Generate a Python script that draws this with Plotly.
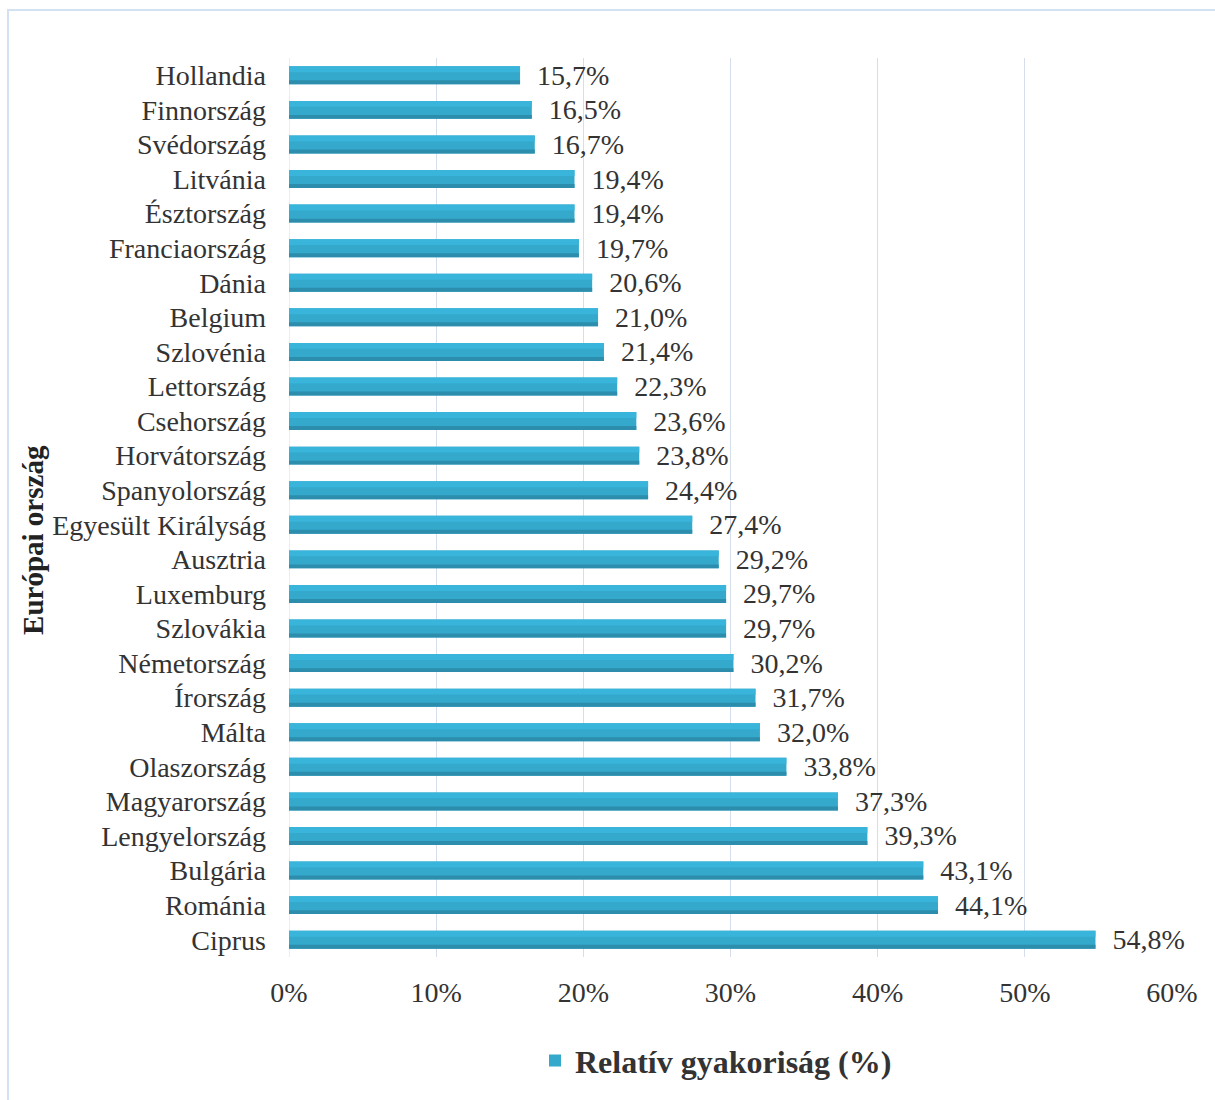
import plotly.graph_objects as go

countries = ["Hollandia", "Finnország", "Svédország", "Litvánia", "Észtország",
             "Franciaország", "Dánia", "Belgium", "Szlovénia", "Lettország",
             "Csehország", "Horvátország", "Spanyolország", "Egyesült Királyság",
             "Ausztria", "Luxemburg", "Szlovákia", "Németország", "Írország",
             "Málta", "Olaszország", "Magyarország", "Lengyelország", "Bulgária",
             "Románia", "Ciprus"]
values = [15.7, 16.5, 16.7, 19.4, 19.4, 19.7, 20.6, 21.0, 21.4, 22.3,
          23.6, 23.8, 24.4, 27.4, 29.2, 29.7, 29.7, 30.2, 31.7,
          32.0, 33.8, 37.3, 39.3, 43.1, 44.1, 54.8]
x_ticks = [0, 10, 20, 30, 40, 50, 60]
series_name = "Relatív gyakoriság (%)"
y_title = "Európai ország"

labels = ["\u00a0\u00a0" + f"{v:.1f}".replace(".", ",") + "%" for v in values]

FONT = "Liberation Serif"
TXT = "#333333"
BW = 0.52  # bar thickness in category units

fig = go.Figure()
# main bar (carries legend and labels)
fig.add_trace(go.Bar(
    y=countries, x=values, orientation="h", name=series_name,
    width=BW, marker=dict(color="#34a9cc", line=dict(width=0)),
    text=labels, textposition="outside", cliponaxis=False, constraintext="none",
    textfont=dict(family=FONT, size=28, color=TXT),
    showlegend=True, hoverinfo="skip",
))
# gradient-like shading bands (top lighter, bottom darker)
fig.add_trace(go.Bar(
    y=countries, x=values, orientation="h", showlegend=False, hoverinfo="skip",
    width=BW * 0.33, offset=-BW / 2, marker=dict(color="#39b4da", line=dict(width=0)),
))
fig.add_trace(go.Bar(
    y=countries, x=values, orientation="h", showlegend=False, hoverinfo="skip",
    width=BW * 0.22, offset=BW / 2 - BW * 0.22, marker=dict(color="#2c8eac", line=dict(width=0)),
))

W, H = 1215, 1100
L, R, T, B = 289, 43, 58, 141
pw, ph = W - L - R, H - T - B

fig.update_layout(
    width=W, height=H,
    margin=dict(l=L, r=R, t=T, b=B),
    paper_bgcolor="white", plot_bgcolor="white",
    barmode="overlay",
    font=dict(family=FONT, size=28, color=TXT),
    xaxis=dict(range=[0, 60], tickvals=x_ticks, ticktext=[f"{t}%" for t in x_ticks],
               showgrid=True, gridcolor="#d5deea", gridwidth=1, zeroline=False,
               showline=False, ticks="", tickfont=dict(size=28, family=FONT, color=TXT),
               ticklabelstandoff=16, fixedrange=True),
    yaxis=dict(categoryorder="array", categoryarray=countries, autorange="reversed",
               showgrid=False, zeroline=False, showline=False, ticks="",
               tickfont=dict(size=28, family=FONT, color=TXT),
               ticklabelstandoff=22),
    legend=dict(orientation="h", x=(716 - L) / pw, xanchor="center",
                y=(T + ph - 1063) / ph, yanchor="middle",
                font=dict(family=FONT, size=32, color=TXT, weight="bold"),
                itemwidth=30),
    annotations=[dict(text=f"<b>{y_title}</b>", textangle=-90, xref="paper", yref="paper",
                      x=(33 - L) / pw, y=(T + ph - 541) / ph, xanchor="center", yanchor="middle",
                      showarrow=False, font=dict(family=FONT, size=29, color="#222222"))],
    shapes=[dict(type="rect", xref="paper", yref="paper",
                 x0=(8 - L) / pw, x1=(1225 - L) / pw,
                 y0=(T + ph - 1110) / ph, y1=(T + ph - 10) / ph,
                 line=dict(color="#d3e2f3", width=2), fillcolor="rgba(0,0,0,0)", layer="below"),
            dict(type="line", xref="x", yref="paper", x0=0, x1=0, y0=0, y1=1,
                 line=dict(color="#d5deea", width=1), layer="below")],
)

fig.write_html("out.html")
